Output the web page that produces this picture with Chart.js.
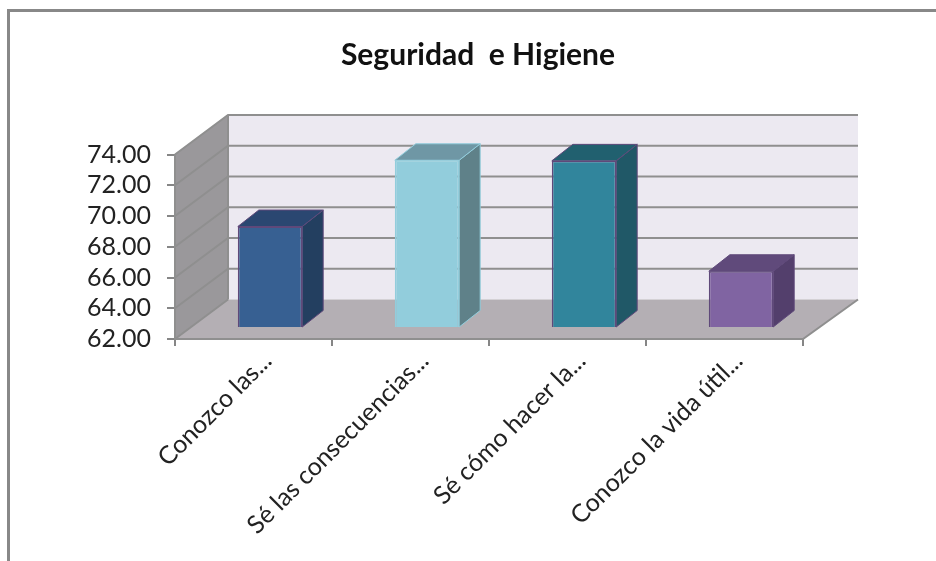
<!DOCTYPE html>
<html>
<head>
<meta charset="utf-8">
<title>Seguridad e Higiene</title>
<script src="https://cdn.jsdelivr.net/npm/chart.js@4"></script>
<style>
    body { margin: 0; background: #fff; }
    .frame { position: absolute; left: 7px; top: 9px; width: 929px; height: 552px; border-left: 3px solid #888; border-top: 3px solid #888; box-sizing: border-box; }
    .chart-wrap { position: absolute; left: 0; top: 0; width: 936px; height: 561px; }
</style>
</head>
<body>
<div class="frame"></div>
<div class="chart-wrap"><canvas id="chart"></canvas></div>
<script>
const categories = ['Conozco las...', 'Sé las consecuencias...', 'Sé cómo hacer la...', 'Conozco la vida útil...'];
const values = [68.6, 72.91, 72.87, 65.69];
const yTicks = [62, 64, 66, 68, 70, 72, 74];

const frontColors = ['#376092', '#92cddc', '#31859c', '#8064a2'];
const sideColors = ['#233f60', '#5f8189', '#205867', '#533f6c'];
const topColors = ['#2a4771', '#6f97a5', '#21606f', '#604a7b'];
const edgeColors = ['#5f497a', '#92cddc', '#5f497a', '#5f497a'];

// how far the back wall sits from the front of the box, and the bars inside it
const wallDepth = { left: 53, right: 55, y: -39.5 };
const barShift = { x: 16.5, y: -11 };
const barDepth = { x: 21, y: -16.5 };

function poly(ctx, pts, fill, stroke, width) {
    ctx.beginPath();
    pts.forEach((p, i) => i ? ctx.lineTo(p[0], p[1]) : ctx.moveTo(p[0], p[1]));
    ctx.closePath();
    if (fill) { ctx.fillStyle = fill; ctx.fill(); }
    if (stroke) { ctx.strokeStyle = stroke; ctx.lineWidth = width || 1; ctx.stroke(); }
}

const box3d = {
    id: 'box3d',
    // labels get clipped to the scale box, so let it reach the page edge
    afterLayout(chart) {
        chart.scales.y.left = 0;
    },
    beforeDatasetsDraw(chart) {
        const { ctx, chartArea: a, scales } = chart;
        const dl = wallDepth.left, dr = wallDepth.right, dy = wallDepth.y;
        ctx.save();
        // back wall, left wall, floor
        poly(ctx, [[a.left + dl, a.top + dy], [a.right + dr, a.top + dy], [a.right + dr, a.bottom + dy], [a.left + dl, a.bottom + dy]], '#ece9f1');
        poly(ctx, [[a.left, a.top], [a.left + dl, a.top + dy], [a.left + dl, a.bottom + dy], [a.left, a.bottom]], '#9a989b');
        poly(ctx, [[a.left, a.bottom], [a.left + dl, a.bottom + dy], [a.right + dr, a.bottom + dy], [a.right, a.bottom]], '#b4afb4');

        // gridlines wrap round the left wall and the back
        ctx.strokeStyle = '#8f8f8f';
        ctx.lineWidth = 2;
        yTicks.slice(1).forEach(v => {
            const y = scales.y.getPixelForValue(v);
            ctx.beginPath();
            ctx.moveTo(a.left, y);
            ctx.lineTo(a.left + dl, y + dy);
            ctx.lineTo(a.right + dr, y + dy);
            ctx.stroke();
        });
        ctx.beginPath();
        ctx.moveTo(a.left, a.top);
        ctx.lineTo(a.left, a.bottom);
        ctx.lineTo(a.right, a.bottom);
        ctx.lineTo(a.right + dr, a.bottom + dy);
        ctx.moveTo(a.left + dl, a.top + dy);
        ctx.lineTo(a.left + dl, a.bottom + dy);
        ctx.moveTo(a.left, a.bottom);
        ctx.lineTo(a.left + dl, a.bottom + dy);
        ctx.stroke();

        // side and top faces, the front face comes from the bar element
        chart.getDatasetMeta(0).data.forEach((bar, i) => {
            const l = bar.x - bar.width / 2 + barShift.x;
            const r = bar.x + bar.width / 2 + barShift.x;
            const t = bar.y + barShift.y;
            const b = bar.base + barShift.y;
            poly(ctx, [[r, t], [r + barDepth.x, t + barDepth.y], [r + barDepth.x, b + barDepth.y], [r, b]], sideColors[i], edgeColors[i], 1);
            poly(ctx, [[l, t], [l + barDepth.x, t + barDepth.y], [r + barDepth.x, t + barDepth.y], [r, t]], topColors[i], edgeColors[i], 1);
        });
        ctx.restore();

        // the bars themselves are drawn shifted into the box
        ctx.save();
        ctx.translate(barShift.x, barShift.y);
    },
    afterDatasetsDraw(chart) {
        chart.ctx.restore();
    }
};

new Chart(document.getElementById('chart'), {
    type: 'bar',
    data: {
        labels: categories,
        datasets: [{
            data: values,
            base: yTicks[0],
            clip: false,
            backgroundColor: frontColors,
            borderColor: edgeColors,
            borderWidth: 1.5,
            categoryPercentage: 1,
            barPercentage: 0.41
        }]
    },
    options: {
        responsive: true,
        maintainAspectRatio: false,
        animation: false,
        layout: {
            autoPadding: false,
            padding: { left: 153, right: 133, top: 0, bottom: 0 }
        },
        plugins: {
            legend: { display: false },
            tooltip: { enabled: false },
            title: {
                display: true,
                text: 'Seguridad  e Higiene',
                color: '#111111',
                font: { family: "Lato, sans-serif", size: 30, weight: 'bold' },
                padding: { top: 37, bottom: 81.5 }
            }
        },
        scales: {
            x: {
                afterFit(s) { s.height = 222; },
                grid: { drawOnChartArea: false, color: '#868686', lineWidth: 2, tickLength: 7, offset: true },
                border: { display: false },
                ticks: {
                    color: '#222222',
                    font: { family: "Lato, sans-serif", size: 25 },
                    minRotation: 45,
                    maxRotation: 45,
                    labelOffset: 14,
                    padding: 0,
                    autoSkip: false
                }
            },
            y: {
                min: 62,
                max: 74,
                afterFit(s) { s.width = 22; },
                grid: { drawOnChartArea: false, color: '#868686', lineWidth: 2, tickLength: 8 },
                border: { display: false },
                ticks: {
                    stepSize: 2,
                    autoSkip: false,
                    color: '#222222',
                    font: { family: "Lato, sans-serif", size: 25 },
                    padding: 16,
                    callback: value => value.toFixed(2)
                }
            }
        }
    },
    plugins: [box3d]
});
</script>
</body>
</html>
